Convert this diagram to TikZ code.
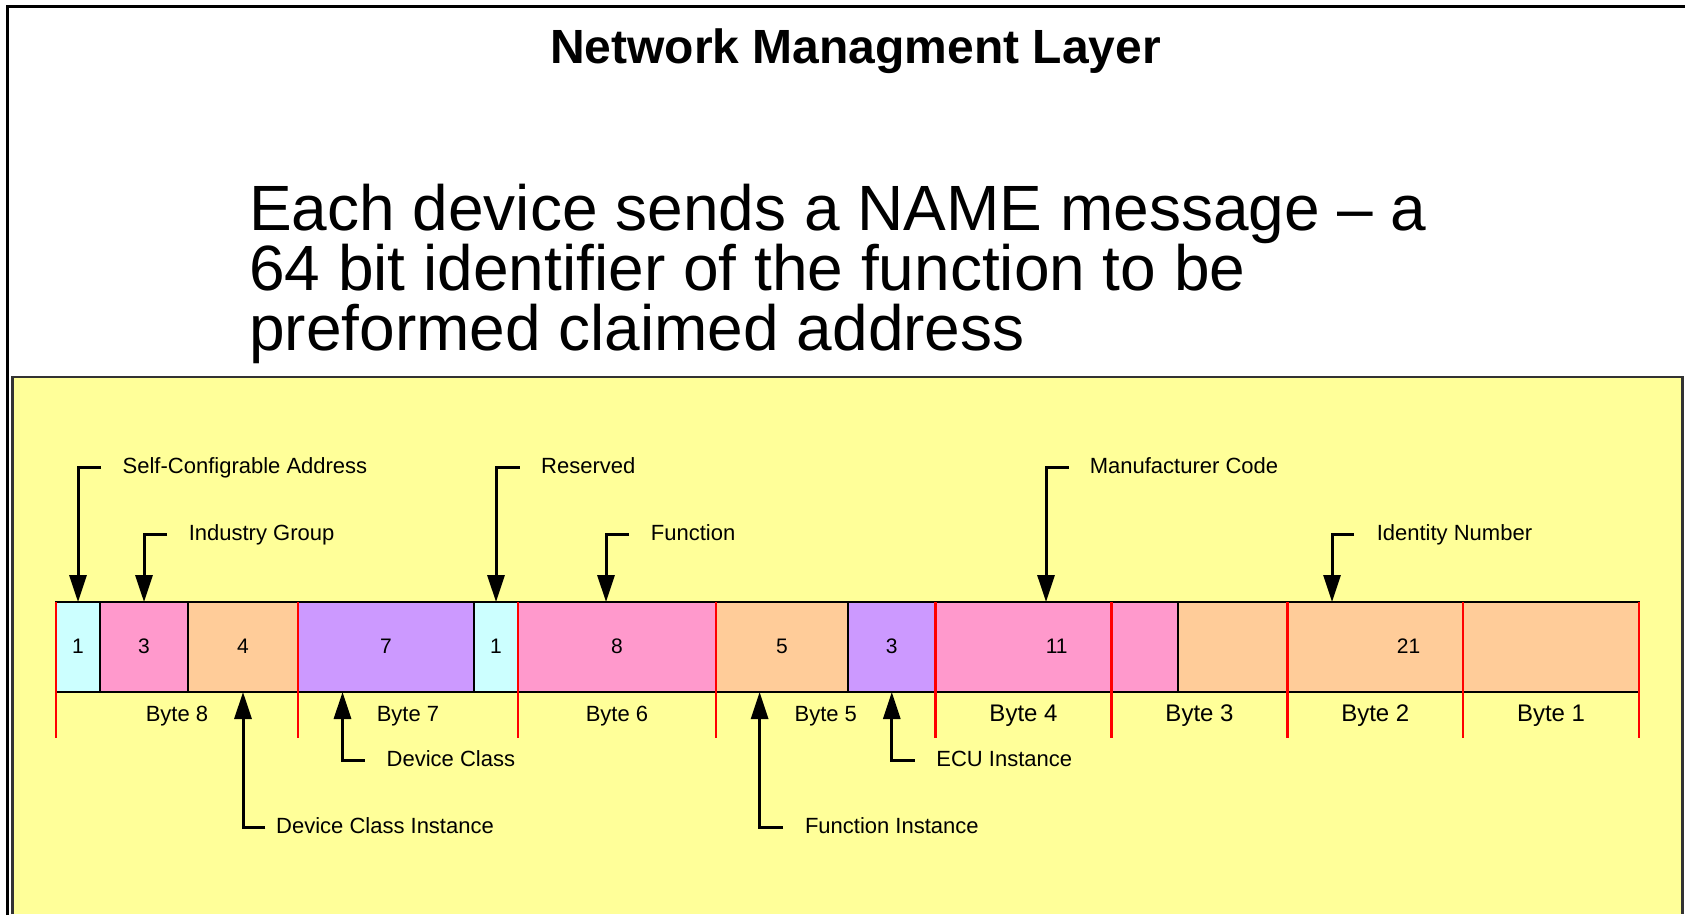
\documentclass[tikz,border=0pt]{standalone}
\usepackage{fontspec}
\setmainfont{Liberation Sans}
\usetikzlibrary{arrows.meta,calc}
\definecolor{cyanf}{HTML}{CCFFFF}
\definecolor{pinkf}{HTML}{FF99CC}
\definecolor{orangef}{HTML}{FFCC99}
\definecolor{purplef}{HTML}{CC99FF}
\definecolor{yellowf}{HTML}{FFFF99}
\begin{document}
\begin{tikzpicture}[x=1pt,y=-1pt,
  field/.style={draw=black, line width=1.8pt, inner sep=0pt, outer sep=0pt, minimum height=90pt, font=\fontsize{21}{25}\selectfont},
  lab/.style={anchor=base west, inner sep=0pt, font=\fontsize{22}{26}\selectfont},
  bytelab/.style={anchor=base, inner sep=0pt, font=\fontsize{22}{26}\selectfont},
  bytelabL/.style={anchor=base, inner sep=0pt, font=\fontsize{24}{28}\selectfont},
  arr/.style={line width=3pt, -{Triangle[length=27pt,width=17pt]}},
  sepline/.style={draw=red, line width=2.5pt},
  bodytext/.style={anchor=base west, inner sep=0pt, font=\fontsize{64}{60}\selectfont}]
\useasboundingbox (0,0) rectangle (1685,915);
\fill[white] (0,0) rectangle (1685,915);
% outer frame
\draw[line width=3pt] (7,915) -- (7,6.5) -- (1685,6.5);
% yellow panel
\draw[fill=yellowf, draw=black!80, line width=2.5pt] (12.5,914) -- (12.5,377) -- (1682.5,377) -- (1682.5,914);
% title and text
\node[anchor=base, inner sep=0pt, font=\bfseries\fontsize{48}{56}\selectfont] (title) at (855.5,64) {Network Managment Layer};
\node[bodytext] (body1) at (249,230.5) {Each device sends a NAME message – a};
\node[bodytext] (body2) at (249,290.5) {64 bit identifier of the function to be};
\node[bodytext] (body3) at (249,350.5) {preformed claimed address};
% fields
\node[field, fill=cyanf,   minimum width=44pt]    (f1)  at (78,647)     {\raisebox{1pt}{1}};
\node[field, fill=pinkf,   minimum width=88pt]    (f2)  at (144,647)    {\raisebox{1pt}{3}};
\node[field, fill=orangef, minimum width=110pt]   (f3)  at (243,647)    {\raisebox{1pt}{4}};
\node[field, fill=purplef, minimum width=176pt]   (f4)  at (386,647)    {\raisebox{1pt}{7}};
\node[field, fill=cyanf,   minimum width=44pt]    (f5)  at (496,647)    {\raisebox{1pt}{1}};
\node[field, fill=pinkf,   minimum width=198pt]   (f6)  at (617,647)    {\raisebox{1pt}{8}};
\node[field, fill=orangef, minimum width=132pt]   (f7)  at (782,647)    {\raisebox{1pt}{5}};
\node[field, fill=purplef, minimum width=87.5pt]  (f8)  at (891.75,647) {\raisebox{1pt}{3}};
\node[field, fill=pinkf,   minimum width=242.5pt] (f9)  at (1056.75,647) {\raisebox{1pt}{11}};
\node[field, fill=orangef, minimum width=461pt]   (f10) at (1408.5,647) {\raisebox{1pt}{21}};
% byte separators
\foreach \x in {56,298,518,716,935.5,1111.5,1287.5,1463,1639}
  \draw[sepline] (\x,602) -- (\x,738);
% byte labels
\node[bytelab]  (b8) at (177,721)    {Byte 8};
\node[bytelab]  (b7) at (408,721)    {Byte 7};
\node[bytelab]  (b6) at (617,721)    {Byte 6};
\node[bytelab]  (b5) at (825.75,721) {Byte 5};
\node[bytelabL] (b4) at (1023.5,721) {Byte 4};
\node[bytelabL] (b3) at (1199.5,721) {Byte 3};
\node[bytelabL] (b2) at (1375.25,721) {Byte 2};
\node[bytelabL] (b1) at (1551,721)   {Byte 1};
% labels
\node[lab] (lSCA) at (122.5,473.5)  {Self-Configrable Address};
\node[lab] (lIG)  at (188.6,540.8) {Industry Group};
\node[lab] (lRes) at (541,473.5)    {Reserved};
\node[lab] (lFun) at (650.7,540.8) {Function};
\node[lab] (lMan) at (1089.6,473.5) {Manufacturer Code};
\node[lab] (lId)  at (1376.6,540.8) {Identity Number};
\node[lab] (lDC)  at (386.5,766.5)  {Device Class};
\node[lab] (lDCI) at (276,833.5)    {Device Class Instance};
\node[lab] (lFI)  at (804.8,833.5)  {Function Instance};
\node[lab] (lECU) at (936.2,766.5)  {ECU Instance};
% arrows
\draw[arr] ($(lSCA.base west)+(-21.5,-6.5)$) -| (f1.north);
\draw[arr] ($(lIG.base west)+(-21.6,-6.5)$) -| (f2.north);
\draw[arr] ($(lRes.base west)+(-21.4,-6.5)$) -| (f5.north);
\draw[arr] ($(lFun.base west)+(-21.7,-6.5)$) -| ([xshift=-11pt]f6.north);
\draw[arr] ($(lMan.base west)+(-21,-6.5)$) -| ([xshift=-10.75pt]f9.north);
\draw[arr] ($(lId.base west)+(-22.6,-6.5)$) -| ([xshift=-76.5pt]f10.north);
\draw[arr] ($(lDC.base west)+(-21.7,-6.5)$) -| ([xshift=-43.5pt]f4.south);
\draw[arr] ($(lDCI.base west)+(-10.7,-6.5)$) -| (f3.south);
\draw[arr] ($(lFI.base west)+(-21.7,-6.5)$) -| ([xshift=-22.4pt]f7.south);
\draw[arr] ($(lECU.base west)+(-21.7,-6.5)$) -| (f8.south);
\end{tikzpicture}
\end{document}
